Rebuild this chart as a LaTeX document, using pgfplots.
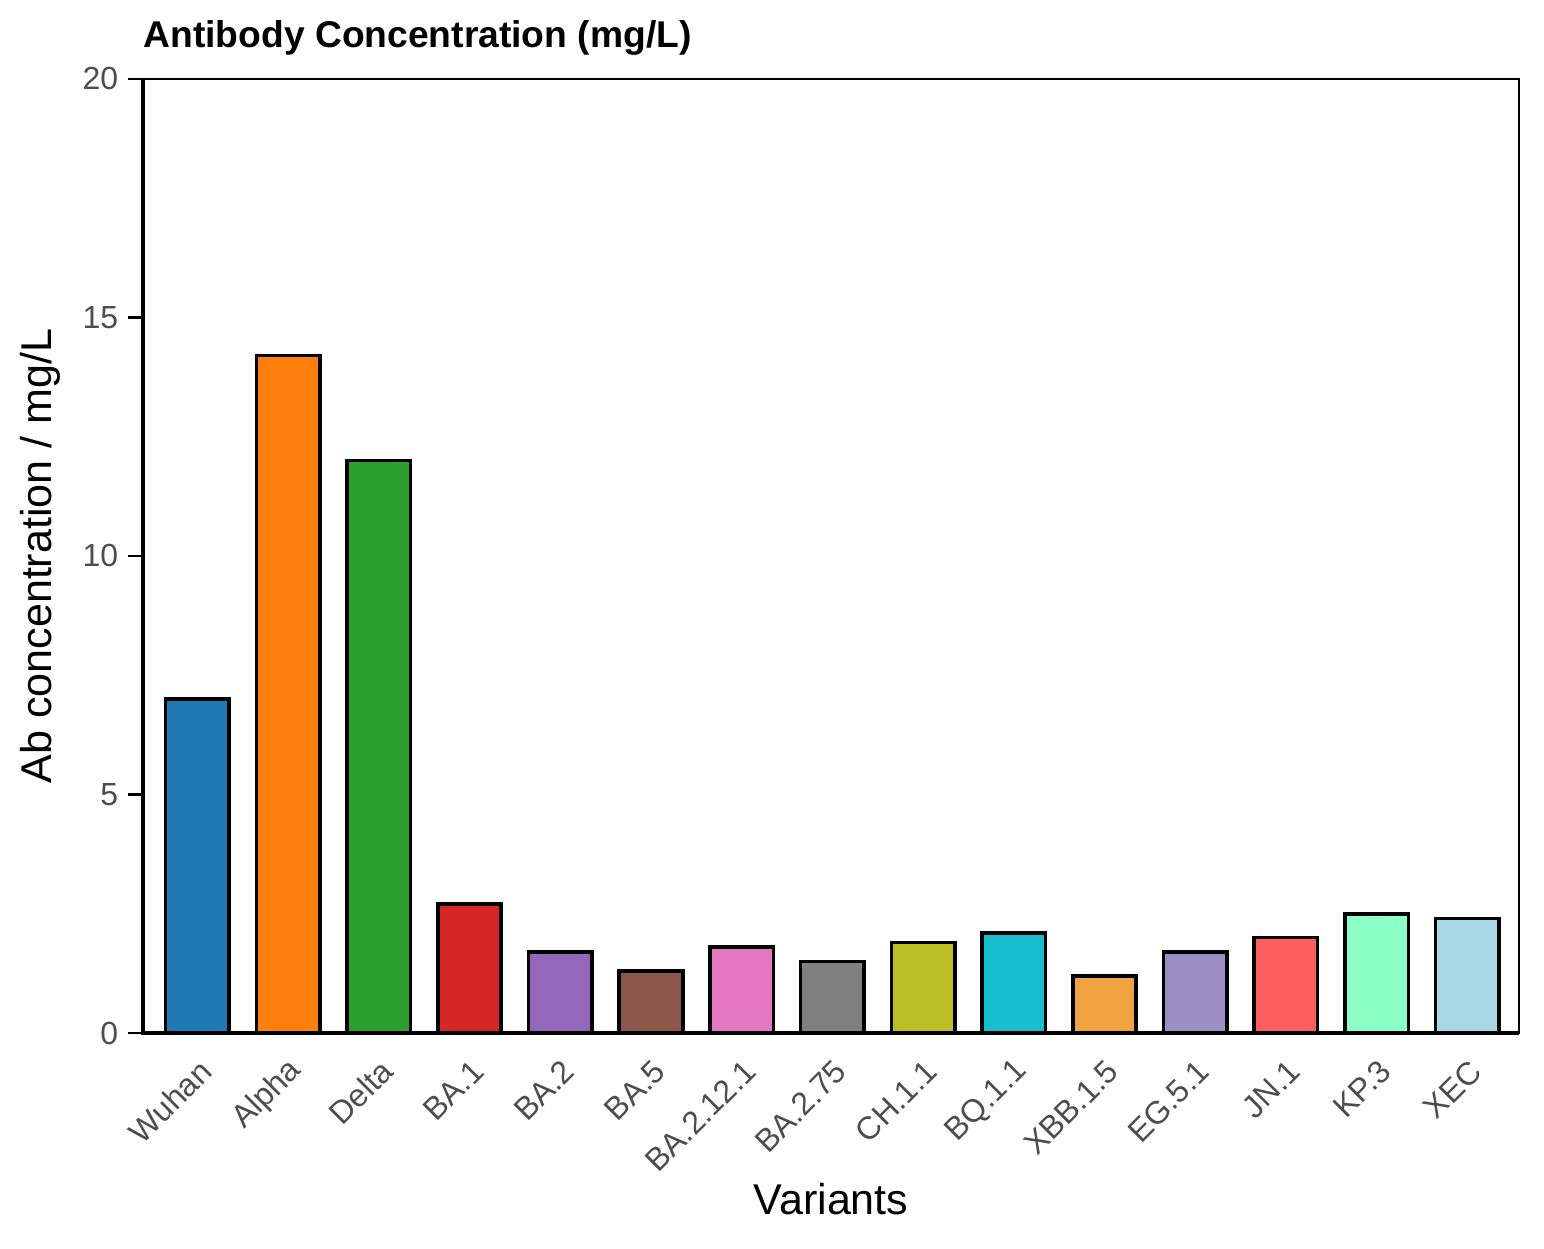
\documentclass[border=0pt]{standalone}
\usepackage{fontspec}
\setmainfont{Liberation Sans}
\usepackage{xcolor}
\usepackage{pgfplots}
\pgfplotsset{compat=1.18}
\usetikzlibrary{calc}

\definecolor{c1}{HTML}{1F77B4}
\definecolor{c2}{HTML}{FF7F0E}
\definecolor{c3}{HTML}{2CA02C}
\definecolor{c4}{HTML}{D62728}
\definecolor{c5}{HTML}{9467BD}
\definecolor{c6}{HTML}{8C564B}
\definecolor{c7}{HTML}{E377C2}
\definecolor{c8}{HTML}{7F7F7F}
\definecolor{c9}{HTML}{BCBD22}
\definecolor{c10}{HTML}{17BECF}
\definecolor{c11}{HTML}{F0A340}
\definecolor{c12}{HTML}{9A8EC4}
\definecolor{c13}{HTML}{FF5E5E}
\definecolor{c14}{HTML}{8CFFC6}
\definecolor{c15}{HTML}{A8D8E6}
\definecolor{ticktext}{HTML}{4D4D4D}

% 1 px of the reference = 0.36pt
\begin{document}
\begin{tikzpicture}
\begin{axis}[
    name=ax,
    scale only axis,
    width=495.36pt,
    height=343.44pt,
    xmin=-0.6, xmax=14.57,
    ymin=0, ymax=20,
    ytick={0,5,10,15,20},
    xtick={0,...,14},
    xticklabels={Wuhan,Alpha,Delta,BA.1,BA.2,BA.5,BA.2.12.1,BA.2.75,CH.1.1,BQ.1.1,XBB.1.5,EG.5.1,JN.1,KP.3,XEC},
    xticklabel style={xshift=5.5pt, yshift=-4pt, rotate=45, anchor=east, font=\fontsize{11.5}{13}\selectfont, text=ticktext},
    yticklabel style={font=\fontsize{11.5}{13}\selectfont, text=ticktext},
    /pgf/number format/assume math mode=true,
    tick pos=left,
    tick align=outside,
    major tick length=5.4pt,
    x tick style={draw=none},
    y tick style={black, line width=0.9pt},
    axis line style={black, line width=1pt},
    xlabel={Variants},
    ylabel={Ab concentration / mg/L},
    label style={font=\fontsize{15.5}{18}\selectfont},
    xlabel style={yshift=4.7pt},
    ylabel style={yshift=1pt},
    ybar,
    bar width=0.7,
    bar shift=0pt,
    every axis plot/.append style={draw=black, line width=1.3pt},
    clip=false,
]
\addplot[fill=c1]  coordinates {(0,7.0)};
\addplot[fill=c2]  coordinates {(1,14.2)};
\addplot[fill=c3]  coordinates {(2,12.0)};
\addplot[fill=c4]  coordinates {(3,2.7)};
\addplot[fill=c5]  coordinates {(4,1.7)};
\addplot[fill=c6]  coordinates {(5,1.3)};
\addplot[fill=c7]  coordinates {(6,1.8)};
\addplot[fill=c8]  coordinates {(7,1.5)};
\addplot[fill=c9]  coordinates {(8,1.9)};
\addplot[fill=c10] coordinates {(9,2.1)};
\addplot[fill=c11] coordinates {(10,1.2)};
\addplot[fill=c12] coordinates {(11,1.7)};
\addplot[fill=c13] coordinates {(12,2.0)};
\addplot[fill=c14] coordinates {(13,2.5)};
\addplot[fill=c15] coordinates {(14,2.4)};
% heavier left and bottom spines
\draw[black, line width=1.5pt] (rel axis cs:0,1) -- (rel axis cs:0,0) -- (rel axis cs:1,0);
\end{axis}
\node[anchor=base west, font=\bfseries\fontsize{13.4}{16}\selectfont, inner sep=0pt]
    at ($(ax.north west)+(0,11.5pt)$) {Antibody Concentration (mg/L)};
\pgfresetboundingbox
\path[use as bounding box] ($(ax.south west)+(-51.48pt,-77.4pt)$) rectangle ($(ax.north east)+(9pt,28.44pt)$);
\end{tikzpicture}
\end{document}
